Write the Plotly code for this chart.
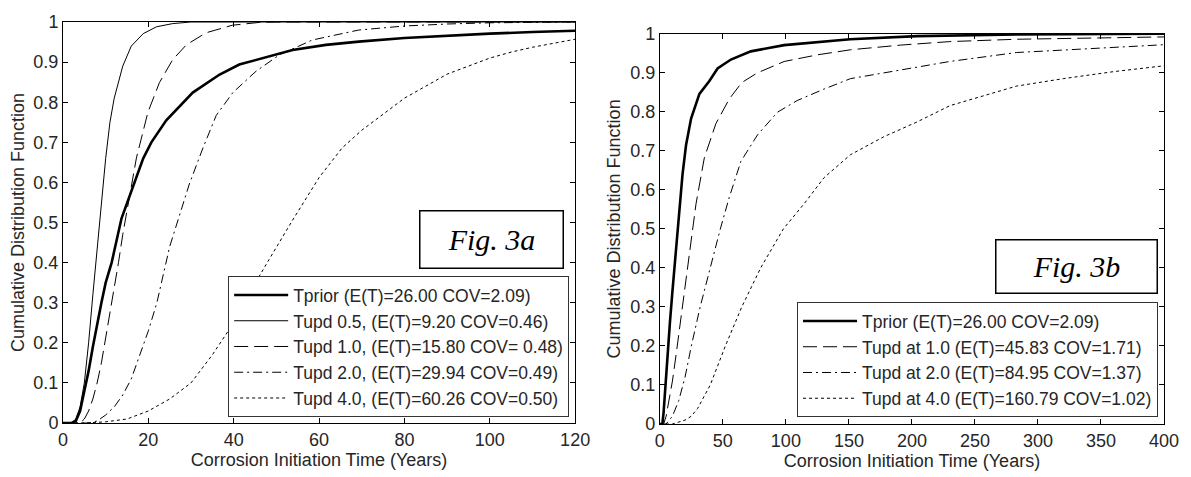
import plotly.graph_objects as go

# ---------------- data : Fig. 3a ----------------
a_prior_x = [0, 2, 3, 4, 5, 6, 7, 8, 9, 10, 11.4, 13.7, 16, 18.8, 20.7, 24.2, 30.4, 36.7, 41.3, 46.8, 53.8, 61.6, 69.3, 80, 90, 100, 110, 120]
a_prior_y = [0, 0, 0.005, 0.03, 0.08, 0.13, 0.19, 0.25, 0.30, 0.35, 0.40, 0.51, 0.58, 0.66, 0.70, 0.755, 0.824, 0.869, 0.894, 0.91, 0.93, 0.943, 0.951, 0.96, 0.966, 0.971, 0.975, 0.978]

a_u05_x = [0, 2, 3, 4, 5, 6, 7, 8, 9, 10, 11, 12, 14, 16, 18.8, 21.9, 25.7, 30, 120]
a_u05_y = [0, 0, 0.01, 0.04, 0.1, 0.2, 0.32, 0.44, 0.56, 0.66, 0.75, 0.81, 0.89, 0.94, 0.971, 0.988, 0.996, 1.0, 1.0]

a_u10_x = [0, 4, 5, 6, 7, 8, 9, 10, 11, 12, 13, 14, 15, 16, 17.2, 19.9, 22.6, 25.7, 28.9, 33.5, 39.7, 46, 50, 120]
a_u10_y = [0, 0, 0.01, 0.03, 0.06, 0.1, 0.15, 0.21, 0.27, 0.34, 0.40, 0.47, 0.53, 0.59, 0.661, 0.775, 0.849, 0.906, 0.943, 0.973, 0.992, 0.999, 1.0, 1.0]

a_u20_x = [0, 6, 8, 10, 12, 14, 16, 18, 20, 22, 25, 29.6, 32.8, 35.9, 39.8, 45.2, 50.7, 58.4, 69.3, 80, 90, 100, 120]
a_u20_y = [0, 0, 0.005, 0.02, 0.04, 0.07, 0.11, 0.17, 0.23, 0.30, 0.44, 0.596, 0.686, 0.767, 0.824, 0.877, 0.918, 0.955, 0.98, 0.99, 0.995, 0.998, 1.0]

a_u40_x = [0, 5, 10, 15, 20, 25, 30, 35, 40, 44, 48.3, 53.8, 60, 65.4, 70, 75, 80, 85, 90, 95, 100, 105, 110, 115, 120]
a_u40_y = [0, 0, 0.003, 0.01, 0.03, 0.06, 0.1, 0.17, 0.25, 0.33, 0.408, 0.506, 0.612, 0.686, 0.73, 0.77, 0.81, 0.84, 0.87, 0.89, 0.91, 0.925, 0.937, 0.947, 0.957]

a_names = ["Tprior (E(T)=26.00 COV=2.09)",
           "Tupd 0.5, (E(T)=9.20 COV=0.46)",
           "Tupd 1.0, (E(T)=15.80 COV= 0.48)",
           "Tupd 2.0, (E(T)=29.94 COV=0.49)",
           "Tupd 4.0, (E(T)=60.26 COV=0.50)"]

# ---------------- data : Fig. 3b ----------------
b_prior_x = [0, 2, 3, 4, 6, 8, 10, 12, 14, 15.6, 18, 20.8, 24.8, 31.4, 39.3, 45.8, 56.4, 72.2, 98.6, 151, 204, 283, 340, 400]
b_prior_y = [0, 0, 0.03, 0.08, 0.17, 0.26, 0.34, 0.42, 0.50, 0.564, 0.64, 0.715, 0.783, 0.846, 0.879, 0.911, 0.934, 0.955, 0.971, 0.986, 0.994, 0.998, 0.999, 1.0]

b_u10_x = [0, 3, 5, 8, 10, 13, 17, 21, 25, 28.7, 35.3, 44.5, 55.1, 65, 77.5, 98.6, 124.9, 151.2, 190.8, 230, 283, 340, 400]
b_u10_y = [0, 0, 0.02, 0.07, 0.11, 0.18, 0.28, 0.38, 0.47, 0.564, 0.682, 0.77, 0.833, 0.875, 0.9, 0.929, 0.946, 0.959, 0.971, 0.98, 0.986, 0.989, 0.992]

b_u20_x = [0, 5, 10, 15, 20, 25, 32, 40, 48, 55.1, 64.3, 77.5, 93.3, 109, 130, 151.2, 190.8, 230, 283, 340, 400]
b_u20_y = [0, 0, 0.02, 0.06, 0.12, 0.2, 0.3, 0.4, 0.5, 0.581, 0.673, 0.741, 0.799, 0.829, 0.858, 0.885, 0.908, 0.929, 0.952, 0.962, 0.972]

b_u40_x = [0, 10, 15, 20, 25, 30, 40, 52, 65, 80, 98, 114.4, 130.2, 151.2, 177.6, 204, 230.3, 256.7, 283, 320, 360, 400]
b_u40_y = [0, 0, 0.005, 0.01, 0.02, 0.04, 0.1, 0.2, 0.3, 0.4, 0.5, 0.564, 0.631, 0.69, 0.736, 0.774, 0.816, 0.841, 0.866, 0.885, 0.903, 0.918]

b_names = ["Tprior (E(T)=26.00 COV=2.09)",
           "Tupd at 1.0 (E(T)=45.83 COV=1.71)",
           "Tupd at 2.0 (E(T)=84.95 COV=1.37)",
           "Tupd at 4.0 (E(T)=160.79 COV=1.02)"]

y_ticks = [0, 0.1, 0.2, 0.3, 0.4, 0.5, 0.6, 0.7, 0.8, 0.9, 1]
y_tick_text = ["0", "0.1", "0.2", "0.3", "0.4", "0.5", "0.6", "0.7", "0.8", "0.9", "1"]
a_x_ticks = [0, 20, 40, 60, 80, 100, 120]
b_x_ticks = [0, 50, 100, 150, 200, 250, 300, 350, 400]

x_title = "Corrosion Initiation Time (Years)"
y_title = "Cumulative Distribution Function"

# ---------------- styles ----------------
FONT = "Liberation Sans, Arial, sans-serif"
FS = 18
LFS = 17.5
TXT = "#262626"
styles = [dict(width=2.6, dash="solid"),
          dict(width=1, dash="solid"),
          dict(width=1, dash="14px,6px"),
          dict(width=1, dash="9px,4px,2px,4px"),
          dict(width=1, dash="3px,3px")]

fig = go.Figure()

a_series = [(a_prior_x, a_prior_y), (a_u05_x, a_u05_y), (a_u10_x, a_u10_y), (a_u20_x, a_u20_y), (a_u40_x, a_u40_y)]
for (xs, ys), nm, st in zip(a_series, a_names, styles):
    fig.add_trace(go.Scatter(x=xs, y=ys, name=nm, mode="lines",
                             line=dict(color="black", **st),
                             xaxis="x", yaxis="y", legend="legend"))

b_series = [(b_prior_x, b_prior_y), (b_u10_x, b_u10_y), (b_u20_x, b_u20_y), (b_u40_x, b_u40_y)]
b_styles = [styles[0], styles[2], styles[3], styles[4]]
for (xs, ys), nm, st in zip(b_series, b_names, b_styles):
    fig.add_trace(go.Scatter(x=xs, y=ys, name=nm, mode="lines",
                             line=dict(color="black", **st),
                             xaxis="x2", yaxis="y2", legend="legend2"))

W, H = 1191, 477
ML, MR, MT, MB = 63, 23, 15, 53
PW, PH = W - ML - MR, H - MT - MB

def px(xp):
    return (xp - ML) / PW

def py(yp):
    return (H - MB - yp) / PH

axis_common = dict(showline=True, linecolor="black", linewidth=1, mirror="ticks",
                   ticks="inside", ticklen=5, tickcolor="black", showgrid=False,
                   zeroline=False, tickfont=dict(family=FONT, size=FS, color=TXT),
                   title_font=dict(family=FONT, size=FS, color=TXT))

legend_common = dict(xanchor="right", yanchor="bottom", bgcolor="white",
                     bordercolor="#333", borderwidth=1,
                     font=dict(family=FONT, size=LFS, color=TXT), itemwidth=54,
                     tracegroupgap=0)

fig.update_layout(
    width=W, height=H,
    margin=dict(l=ML, r=MR, t=MT, b=MB),
    paper_bgcolor="white", plot_bgcolor="white",
    font=dict(family=FONT, size=FS, color=TXT),
    xaxis=dict(domain=[0, px(577)], range=[0, 120], tickvals=a_x_ticks,
               title=dict(text=x_title, standoff=2), anchor="y", **axis_common),
    yaxis=dict(domain=[py(423), 1], range=[0, 1], tickvals=y_ticks, ticktext=y_tick_text,
               title=dict(text=y_title, standoff=4), anchor="x", **axis_common),
    xaxis2=dict(domain=[px(662), 1], range=[0, 400], tickvals=b_x_ticks,
                title=dict(text=x_title, standoff=2), anchor="y2", **axis_common),
    yaxis2=dict(domain=[0, py(27)], range=[0, 1], tickvals=y_ticks, ticktext=y_tick_text,
                title=dict(text=y_title, standoff=4), anchor="x2", **axis_common),
    legend=dict(x=px(571), y=py(417), **legend_common),
    legend2=dict(x=px(1162), y=py(417), **legend_common),
    annotations=[
        dict(text="Fig. 3a", xref="paper", yref="paper", x=px(566), y=py(266),
             xanchor="right", yanchor="bottom", showarrow=False,
             font=dict(family="Liberation Serif, Times New Roman, serif", size=30, style="italic", color="black"),
             bordercolor="black", borderwidth=1.5, bgcolor="white", width=140, height=54, borderpad=1),
        dict(text="Fig. 3b", xref="paper", yref="paper", x=px(1162), y=py(292),
             xanchor="right", yanchor="bottom", showarrow=False,
             font=dict(family="Liberation Serif, Times New Roman, serif", size=30, style="italic", color="black"),
             bordercolor="black", borderwidth=1.5, bgcolor="white", width=158, height=50, borderpad=1),
    ],
)

fig.write_html("out.html", config={"displayModeBar": False},
               post_script="document.body.style.margin='0';")
